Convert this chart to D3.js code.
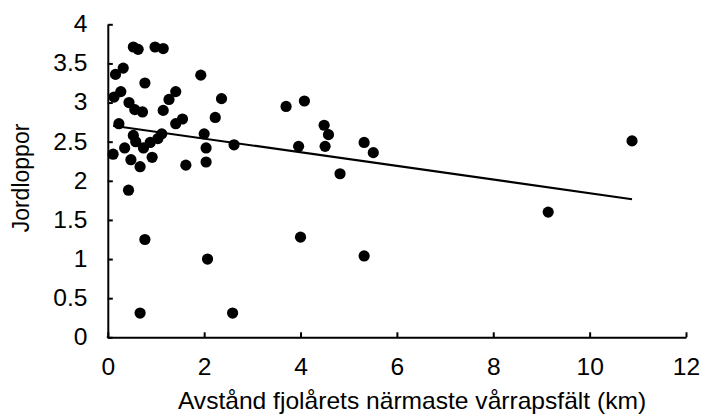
<!DOCTYPE html>
<html><head><meta charset="utf-8">
<script src="https://cdn.jsdelivr.net/npm/d3@7"></script>
<style>body{margin:0;background:#fff}svg{display:block}text{font-family:"Liberation Sans",Arial,sans-serif;fill:#000}</style>
</head><body><svg id="c" width="704" height="414"></svg>
<script>
const distKm = [0.53,0.63,0.98,1.15,0.32,0.16,0.77,1.93,0.27,0.13,1.41,1.27,2.36,0.44,0.56,0.72,1.15,0.23,1.41,1.55,2.23,0.53,0.58,0.88,1.04,1.12,2.00,2.62,2.04,0.74,0.35,0.11,0.48,0.67,0.92,1.62,2.04,0.43,0.77,2.07,0.67,2.59,3.70,4.08,4.49,4.58,4.51,3.96,5.32,5.51,4.82,4.00,5.32,9.14,10.88];
const jordloppor = [3.71,3.68,3.71,3.69,3.44,3.36,3.25,3.35,3.14,3.07,3.14,3.04,3.05,3.00,2.91,2.88,2.90,2.73,2.73,2.79,2.81,2.58,2.50,2.49,2.54,2.60,2.60,2.46,2.42,2.42,2.42,2.34,2.27,2.18,2.30,2.20,2.24,1.88,1.25,1.00,0.31,0.31,2.95,3.02,2.71,2.59,2.44,2.44,2.49,2.36,2.09,1.28,1.04,1.60,2.51];
const xTicks = [0,2,4,6,8,10,12];
const yTicks = [0,0.5,1,1.5,2,2.5,3,3.5,4];
const xTitle = "Avstånd fjolårets närmaste vårrapsfält (km)";
const yTitle = "Jordloppor";

const svg = d3.select("#c");
const x = d3.scaleLinear().domain([0,12]).range([107.8,686]);
const y = d3.scaleLinear().domain([0,4]).range([337.3,24.3]);

// least-squares trend line computed from the data
const n = distKm.length;
const mx = d3.mean(distKm), my = d3.mean(jordloppor);
let sxy=0,sxx=0;
for(let i=0;i<n;i++){sxy+=(distKm[i]-mx)*(jordloppor[i]-my);sxx+=(distKm[i]-mx)**2;}
const b = sxy/sxx, a = my-b*mx;
const x0 = d3.min(distKm), x1 = d3.max(distKm);

const fs = "23px", sx = 1.07;
const xa = svg.append("g").attr("transform",`translate(0,${y(0)})`)
  .call(d3.axisBottom(x).tickValues(xTicks).tickSize(-5).tickPadding(21).tickSizeOuter(0).tickFormat(d3.format("d")));
const ya = svg.append("g").attr("transform",`translate(${x(0)},0)`)
  .call(d3.axisLeft(y).tickValues(yTicks).tickSize(-5).tickPadding(19).tickSizeOuter(0).tickFormat(d=>String(d)));
[xa,ya].forEach(g=>{
  g.select(".domain").attr("stroke","#000").attr("stroke-width",2);
  g.selectAll(".tick line").attr("stroke","#000").attr("stroke-width",2);
  g.selectAll(".tick text").style("font-size",fs).attr("fill","#000").attr("transform",`scale(${sx},1)`);
});
svg.append("line").attr("x1",x(0)-1).attr("x2",x(0)+1).attr("y1",y(0)).attr("y2",y(0)).attr("stroke","#000").attr("stroke-width",2);

svg.append("g").selectAll("circle").data(distKm).join("circle")
  .attr("cx",(d)=>x(d)).attr("cy",(d,i)=>y(jordloppor[i])).attr("r",5.6).attr("fill","#000");

svg.append("line").attr("x1",x(x0)).attr("y1",y(a+b*x0)).attr("x2",x(x1)).attr("y2",y(a+b*x1))
  .attr("stroke","#000").attr("stroke-width",2.2);

svg.append("g").attr("transform",`translate(412,409) scale(${sx},1)`)
  .append("text").attr("text-anchor","middle").style("font-size",fs).text(xTitle);
svg.append("text").attr("transform","translate(29,178) rotate(-90)").attr("text-anchor","middle").style("font-size",fs).text(yTitle);
</script></body></html>
